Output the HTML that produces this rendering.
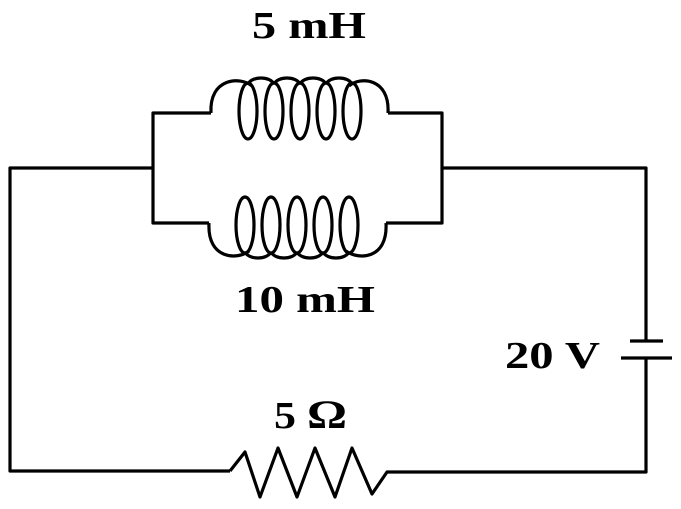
<!DOCTYPE html>
<html><head><style>
html,body{margin:0;padding:0;background:#fff;}
svg{display:block;}
text{font-family:"Liberation Serif",serif;font-weight:bold;fill:#000;}
</style></head><body>
<svg width="681" height="509" viewBox="0 0 681 509" xmlns="http://www.w3.org/2000/svg">
<g fill="none" stroke="#000" stroke-width="3.2" stroke-linejoin="round">
<polyline points="153,168 10,168 10,471 230,471"/>
<polyline points="230,471 245,452 260,497 278,448 297,497 315,448 335,497 352,448 372,494 387,472 646,472 646,358"/>
<polyline points="442,168 646,168 646,341"/>
<line x1="630" y1="341" x2="663" y2="341"/>
<line x1="621" y1="358" x2="672" y2="358"/>
<polyline points="211,113 153,113 153,223 209,223"/>
<polyline points="388,113 442,113 442,223 386,223"/>
<path d="M211,113 C209,78 240,76 252,86"/>
<path d="M388,113 C390,78 360,76 349,86"/>
<ellipse cx="248" cy="111" rx="9" ry="28"/>
<ellipse cx="274" cy="111" rx="9" ry="28"/>
<ellipse cx="300" cy="111" rx="9" ry="28"/>
<ellipse cx="326" cy="111" rx="9" ry="28"/>
<ellipse cx="352" cy="111" rx="9" ry="28"/>
<path d="M248,84 C252,76 270,76 274,84 M274,84 C278,76 296,76 300,84 M300,84 C304,76 322,76 326,84 M326,84 C330,76 348,76 352,84"/>
<path d="M209,223 C207,260 238,260 249,251"/>
<path d="M386,223 C388,260 358,260 346,251"/>
<ellipse cx="245" cy="225" rx="9" ry="28"/>
<ellipse cx="271" cy="225" rx="9" ry="28"/>
<ellipse cx="297" cy="225" rx="9" ry="28"/>
<ellipse cx="323" cy="225" rx="9" ry="28"/>
<ellipse cx="349" cy="225" rx="9" ry="28"/>
<path d="M245,252 C249,260 267,260 271,252 M271,252 C275,260 293,260 297,252 M297,252 C301,260 319,260 323,252 M323,252 C327,260 345,260 349,252"/>
</g>
<text x="252" y="38" font-size="38" textLength="114" lengthAdjust="spacingAndGlyphs">5 mH</text>
<text x="235" y="312" font-size="38" textLength="140" lengthAdjust="spacingAndGlyphs">10 mH</text>
<text x="505" y="368" font-size="38" textLength="95" lengthAdjust="spacingAndGlyphs">20 V</text>
<text x="274" y="428" font-size="38" textLength="22" lengthAdjust="spacingAndGlyphs">5</text>
<text x="307" y="428" font-size="40" textLength="40" lengthAdjust="spacingAndGlyphs">Ω</text>
</svg>
</body></html>
